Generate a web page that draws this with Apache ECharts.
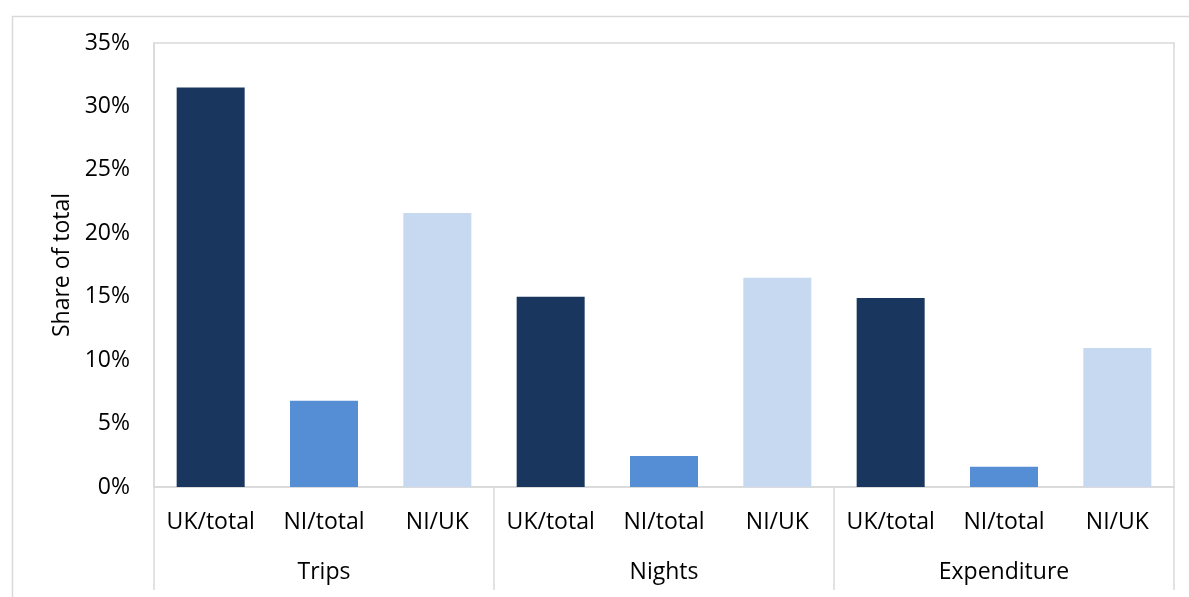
<!DOCTYPE html>
<html>
<head>
<meta charset="utf-8">
<script src="https://cdn.jsdelivr.net/npm/echarts@6/dist/echarts.min.js"></script>
<style>
html,body{margin:0;padding:0;background:#fff;}
#c{width:1189px;height:597px;}
</style>
</head>
<body>
<div id="c"></div>
<script>
const groups = ['Trips', 'Nights', 'Expenditure'];
const subCategories = ['UK/total', 'NI/total', 'NI/UK'];
const tripsValues = [31.5, 6.8, 21.6];
const nightsValues = [15.0, 2.45, 16.5];
const expenditureValues = [14.9, 1.6, 10.95];
const subColors = ['#19375E', '#558ED5', '#C6D9F0'];
const yTicks = [0, 5, 10, 15, 20, 25, 30, 35];

const allValues = [tripsValues, nightsValues, expenditureValues];
const categories = [];
const data = [];
groups.forEach((g, gi) => {
  subCategories.forEach((s, si) => {
    categories.push(s);
    data.push({ value: allValues[gi][si], itemStyle: { color: subColors[si] } });
  });
});

const font = '"Open Sans", "Noto Sans", sans-serif';
const fs = 23;
const chart = echarts.init(document.getElementById('c'), null, { renderer: 'canvas' });
chart.setOption({
  animation: false,
  backgroundColor: '#fff',
  textStyle: { fontFamily: font },
  graphic: [{
    type: 'rect', left: 10, top: 14, silent: true,
    shape: { width: 1200, height: 600 },
    style: { fill: 'none', stroke: '#d9d9d9', lineWidth: 1.5 }
  }],
  grid: {
    left: 154, right: 15, top: 43, bottom: 110,
    show: true, borderColor: '#d9d9d9', borderWidth: 1.5, backgroundColor: 'transparent'
  },
  xAxis: [{
    type: 'category',
    data: categories,
    position: 'bottom',
    axisLine: { show: true, lineStyle: { color: '#d9d9d9', width: 1.5 } },
    axisTick: { show: false },
    axisLabel: { color: '#000', fontSize: fs, fontFamily: font, margin: 24, interval: 0 }
  }, {
    type: 'category',
    data: groups,
    position: 'bottom',
    axisLine: { show: false },
    axisTick: { show: true, length: 103, interval: 0, lineStyle: { color: '#d9d9d9', width: 1.5 } },
    axisLabel: { color: '#000', fontSize: fs, fontFamily: font, margin: 74, interval: 0 }
  }],
  yAxis: {
    type: 'value',
    min: 0, max: 35, interval: 5,
    name: 'Share of total',
    nameLocation: 'middle',
    nameGap: 80,
    nameTextStyle: { color: '#000', fontSize: fs, fontFamily: font },
    axisLine: { show: true, lineStyle: { color: '#d9d9d9', width: 1.5 } },
    axisTick: { show: false },
    splitLine: { show: false },
    axisLabel: {
      color: '#000', fontSize: fs, fontFamily: font, margin: 24,
      formatter: v => yTicks.includes(v) ? v + '%' : ''
    }
  },
  series: [{
    type: 'bar',
    xAxisIndex: 0,
    data: data,
    barWidth: '60%'
  }]
});
</script>
</body>
</html>
